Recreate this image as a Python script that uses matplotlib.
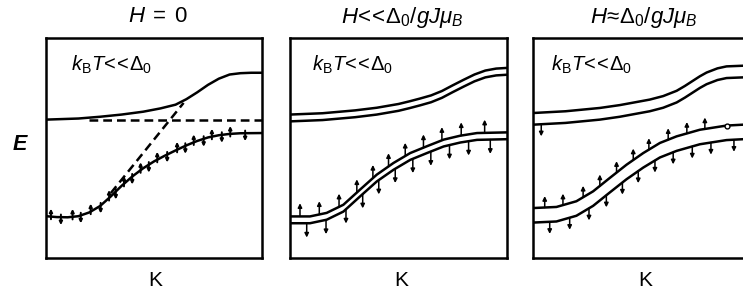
import numpy as np
import matplotlib
matplotlib.use('Agg')
import matplotlib.pyplot as plt

plt.rcParams['font.family'] = ['Liberation Sans', 'DejaVu Sans']
plt.rcParams['mathtext.fontset'] = 'custom'
plt.rcParams['mathtext.rm'] = 'Liberation Sans'
plt.rcParams['mathtext.it'] = 'Liberation Sans:italic'
plt.rcParams['mathtext.bf'] = 'Liberation Sans:italic:bold'

# ---- data (panel coords, 0..1) ----
titles = [r'$H\;{=}\;0$',
          r'$H\!{<}\!\!{<}\!\Delta_0/gJ\mu_B$',
          r'$H\!{\approx}\!\Delta_0/gJ\mu_B$']
inset_label = r'$k_{\rm B}T\!{<}\!\!{<}\!\Delta_0$'

# panel 1 : H = 0
p1_up_x = [0, 0.15, 0.25, 0.35, 0.45, 0.53, 0.6, 0.65, 0.7, 0.75, 0.8, 0.85, 0.9, 0.95, 1.0]
p1_up_y = [0.629, 0.634, 0.642, 0.652, 0.665, 0.680, 0.697, 0.722, 0.753, 0.787, 0.815, 0.834, 0.840, 0.842, 0.842]
p1_lo_x = [0, 0.05, 0.1, 0.15, 0.2, 0.25, 0.3, 0.35, 0.4, 0.45, 0.5, 0.55, 0.6, 0.65, 0.7, 0.75, 0.8, 0.85, 0.9, 1.0]
p1_lo_y = [0.19, 0.186, 0.185, 0.19, 0.207, 0.236, 0.280, 0.328, 0.371, 0.408, 0.439, 0.465, 0.489, 0.512,
           0.532, 0.548, 0.558, 0.564, 0.567, 0.568]
p1_flat = 0.629
p1_diag_x = [0.30, 0.637]
p1_diag_y = [0.295, 0.705]
p1_arr_up = [0.023, 0.123, 0.207, 0.292, 0.361, 0.438, 0.515, 0.607, 0.684, 0.768, 0.853]
p1_arr_dn = [0.069, 0.161, 0.253, 0.323, 0.399, 0.476, 0.561, 0.645, 0.730, 0.814, 0.922]

# panel 2 : H << D0/gJmuB (narrow Zeeman doublets)
p2_up_x = [0, 0.15, 0.3, 0.4, 0.5, 0.55, 0.6, 0.65, 0.7, 0.75, 0.8, 0.85, 0.9, 0.95, 1.0]
p2_up_y = [0.652, 0.658, 0.671, 0.683, 0.700, 0.712, 0.725, 0.739, 0.759, 0.785, 0.810, 0.834, 0.852, 0.861, 0.864]
p2_lo_x = [0, 0.092, 0.169, 0.246, 0.323, 0.4, 0.477, 0.554, 0.631, 0.708, 0.785, 0.862, 1.0]
p2_lo_y = [0.189, 0.189, 0.205, 0.242, 0.311, 0.379, 0.432, 0.477, 0.508, 0.538, 0.556, 0.568, 0.571]
p2_gap = 0.031
p2_arr_up = [0.046, 0.135, 0.226, 0.308, 0.382, 0.454, 0.531, 0.615, 0.700, 0.789, 0.897]
p2_arr_dn = [0.077, 0.166, 0.258, 0.335, 0.409, 0.485, 0.566, 0.649, 0.735, 0.823, 0.923]

# panel 3 : H ~ D0/gJmuB (wide splitting)
p3_up_x = [0, 0.15, 0.308, 0.4, 0.538, 0.6, 0.662, 0.7, 0.769, 0.8, 0.85, 0.892, 0.968, 1.0]
p3_up_y = [0.659, 0.667, 0.682, 0.695, 0.720, 0.736, 0.760, 0.782, 0.826, 0.843, 0.862, 0.871, 0.874, 0.874]
p3_up_gap = 0.053
p3_lo_x = [0, 0.108, 0.2, 0.277, 0.354, 0.431, 0.508, 0.585, 0.662, 0.769, 0.892, 0.968, 1.0]
p3_lo_y = [0.227, 0.232, 0.258, 0.303, 0.364, 0.424, 0.477, 0.523, 0.553, 0.583, 0.602, 0.606, 0.607]
p3_lo_gap = 0.066
p3_arr_up = [0.054, 0.138, 0.231, 0.308, 0.385, 0.462, 0.534, 0.623, 0.709, 0.792]
p3_arr_dn = [0.077, 0.169, 0.258, 0.338, 0.412, 0.485, 0.562, 0.646, 0.734, 0.820, 0.926]
p3_circle_x = 0.894
p3_top_arrow_x = 0.038

# ---- figure ----
W, H = 743, 298
fig = plt.figure(figsize=(W / 100, H / 100), dpi=100)

def box(left_px, width_px=217):
    ax = fig.add_axes([left_px / W, 40 / H, width_px / W, 220 / H])
    ax.set_xlim(0, 1)
    ax.set_ylim(0, 1)
    ax.set_xticks([])
    ax.set_yticks([])
    for s in ax.spines.values():
        s.set_linewidth(1.8)
    return ax

def arrow(ax, x, y0, dy, ms=6, lw=1.1):
    ax.annotate('', xy=(x, y0 + dy), xytext=(x, y0),
                arrowprops=dict(arrowstyle='-|>', lw=lw, color='k',
                                mutation_scale=ms, shrinkA=0, shrinkB=0))

lw = 1.8
kw = dict(color='k', lw=lw, solid_joinstyle='round', solid_capstyle='round')

# panel 1
ax1 = box(46, 216)
ax1.plot(p1_up_x, p1_up_y, **kw)
ax1.plot(p1_lo_x, p1_lo_y, **kw)
ax1.plot([0.2, 1.0], [p1_flat, p1_flat], 'k', lw=lw, ls=(0, (3.5, 2)))
ax1.plot(p1_diag_x, p1_diag_y, 'k', lw=lw, ls=(0, (3.5, 2)))
for x in p1_arr_up:
    arrow(ax1, x, np.interp(x, p1_lo_x, p1_lo_y) - 0.012, 0.048, ms=4.5, lw=1.4)
for x in p1_arr_dn:
    arrow(ax1, x, np.interp(x, p1_lo_x, p1_lo_y) + 0.012, -0.048, ms=4.5, lw=1.4)

# panel 2
ax2 = box(290)
x2u = np.array(p2_up_x); y2u = np.array(p2_up_y)
x2l = np.array(p2_lo_x); y2l = np.array(p2_lo_y)
for ax_x, ax_y in [(x2u, y2u), (x2l, y2l)]:
    ax2.plot(ax_x, ax_y, **kw)
    ax2.plot(ax_x, ax_y - p2_gap, **kw)
for x in p2_arr_up:
    arrow(ax2, x, np.interp(x, x2l, y2l), 0.06)
for x in p2_arr_dn:
    arrow(ax2, x, np.interp(x, x2l, y2l) - p2_gap, -0.065)

# panel 3 (cut at right edge of the figure)
ax3 = box(533)
x3u = np.array(p3_up_x); y3u = np.array(p3_up_y)
x3l = np.array(p3_lo_x); y3l = np.array(p3_lo_y)
ax3.plot(x3u, y3u, **kw)
ax3.plot(x3u, y3u - p3_up_gap, **kw)
ax3.plot(x3l, y3l, **kw)
ax3.plot(x3l, y3l - p3_lo_gap, **kw)
for x in p3_arr_up:
    arrow(ax3, x, np.interp(x, x3l, y3l), 0.052)
for x in p3_arr_dn:
    arrow(ax3, x, np.interp(x, x3l, y3l) - p3_lo_gap, -0.055)
arrow(ax3, p3_top_arrow_x, np.interp(p3_top_arrow_x, x3u, y3u) - p3_up_gap, -0.055)
ax3.plot([p3_circle_x], [np.interp(p3_circle_x, x3l, y3l)], 'o', ms=3.5,
         mfc='white', mec='k', mew=1.0, zorder=5)

# labels
for ax, tx in [(ax1, 0.115), (ax2, 0.10), (ax3, 0.085)]:
    ax.text(tx, 0.88, inset_label, fontsize=14.5, va='center', ha='left',
            transform=ax.transAxes)

for xc, t in zip([158, 402, 644], titles):
    fig.text(xc / W, 1 - 17 / H, t, fontsize=16, ha='center', va='center')
for xc in [155, 401, 645]:
    fig.text(xc / W, 1 - 281 / H, 'K', fontsize=15, ha='center', va='center')
fig.text(20 / W, 1 - 145 / H, r'$\mathbf{E}$', fontsize=15.5, ha='center', va='center')

fig.savefig('out.png', dpi=100)
